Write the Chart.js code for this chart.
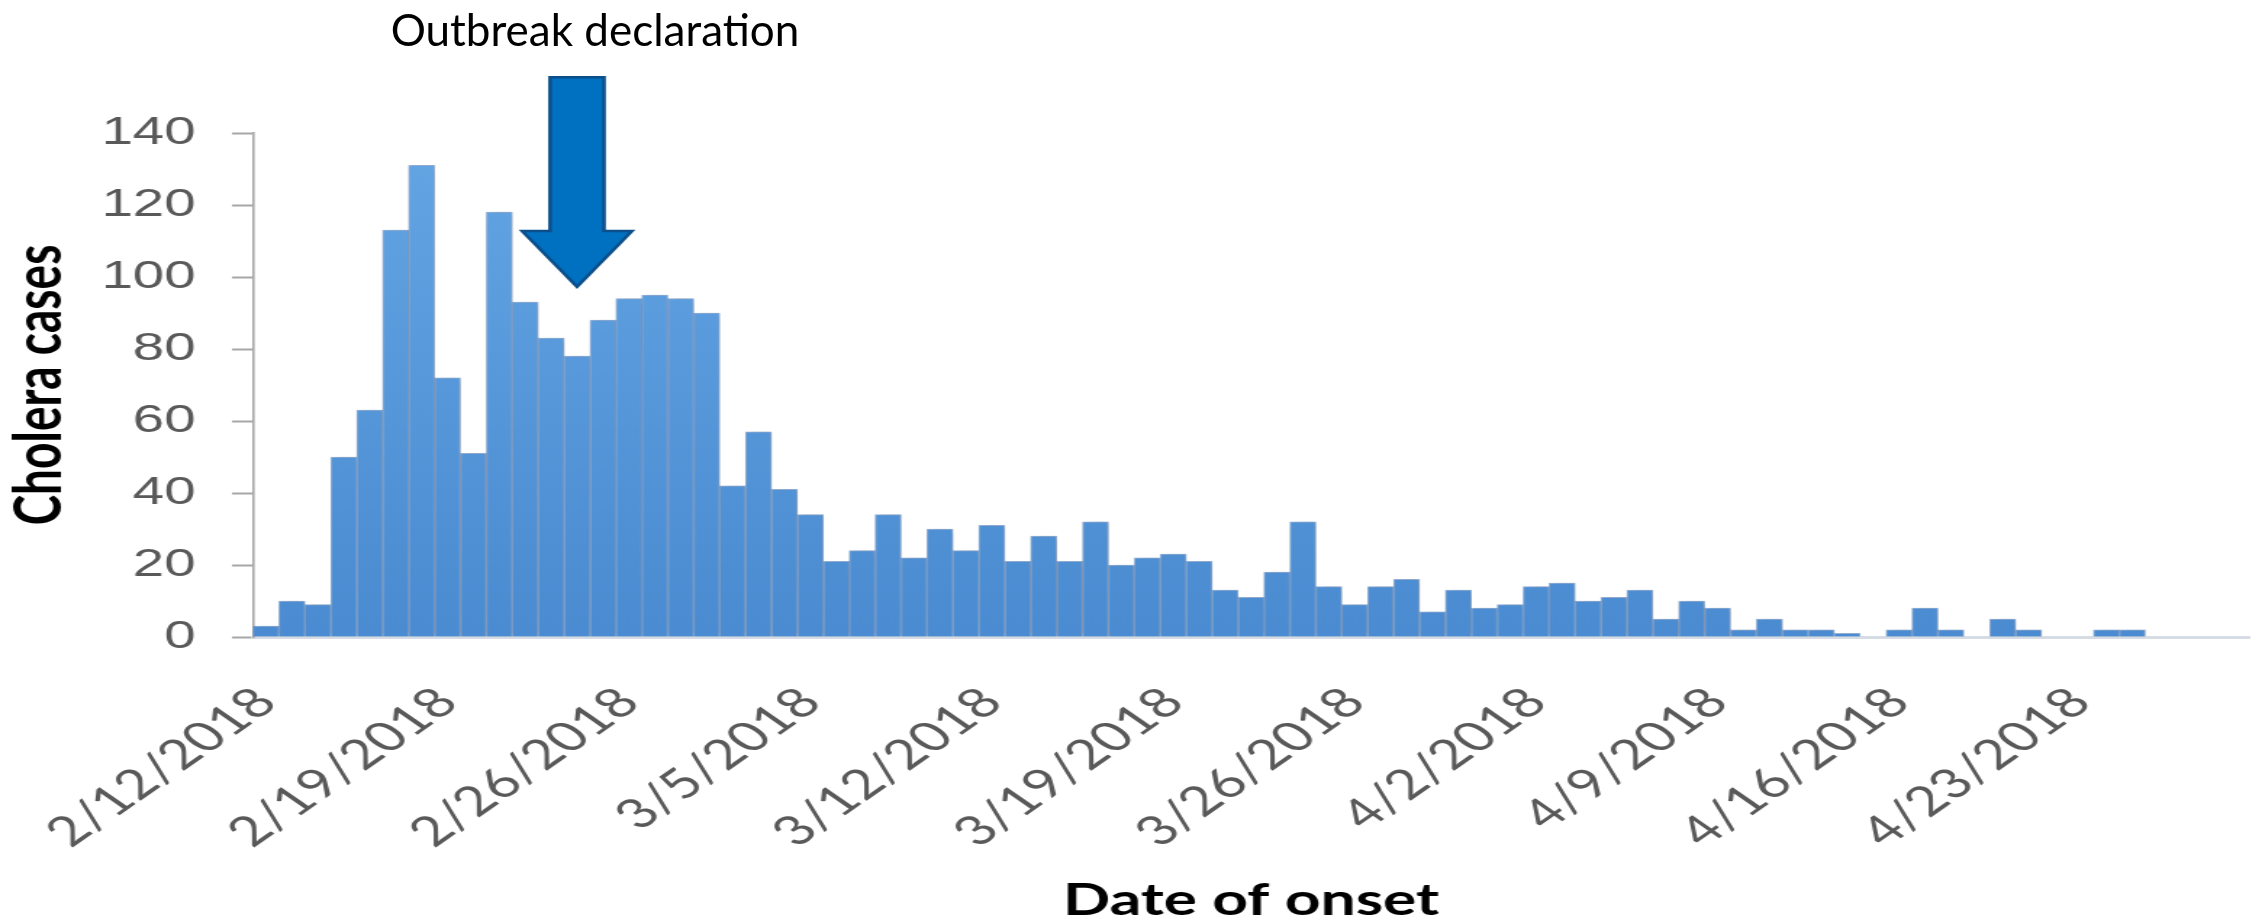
<!DOCTYPE html>
<html>
<head>
<meta charset="utf-8">
<script src="https://cdn.jsdelivr.net/npm/chart.js@4/dist/chart.umd.min.js"></script>
<style>
  html, body { margin: 0; padding: 0; background: #ffffff; overflow: hidden; }
  #wrap { position: relative; width: 2262px; height: 922px; }
  #c { display: block; width: 2262px; height: 922px; }
  #note { position: absolute; top: 7px; left: 595px; transform: translateX(-50%);
          font-family: 'Lato', sans-serif; font-size: 44px; line-height: 1; color: #000; white-space: nowrap; }
</style>
</head>
<body>
<div id="wrap">
  <canvas id="c" width="1560" height="922" style="width:2262px;height:922px;"></canvas>
  <div id="note">Outbreak declaration</div>
</div>
<script>
const categories = [
  '2/12/2018','2/13/2018','2/14/2018','2/15/2018','2/16/2018','2/17/2018','2/18/2018',
  '2/19/2018','2/20/2018','2/21/2018','2/22/2018','2/23/2018','2/24/2018','2/25/2018',
  '2/26/2018','2/27/2018','2/28/2018','3/1/2018','3/2/2018','3/3/2018','3/4/2018',
  '3/5/2018','3/6/2018','3/7/2018','3/8/2018','3/9/2018','3/10/2018','3/11/2018',
  '3/12/2018','3/13/2018','3/14/2018','3/15/2018','3/16/2018','3/17/2018','3/18/2018',
  '3/19/2018','3/20/2018','3/21/2018','3/22/2018','3/23/2018','3/24/2018','3/25/2018',
  '3/26/2018','3/27/2018','3/28/2018','3/29/2018','3/30/2018','3/31/2018','4/1/2018',
  '4/2/2018','4/3/2018','4/4/2018','4/5/2018','4/6/2018','4/7/2018','4/8/2018',
  '4/9/2018','4/10/2018','4/11/2018','4/12/2018','4/13/2018','4/14/2018','4/15/2018',
  '4/16/2018','4/17/2018','4/18/2018','4/19/2018','4/20/2018','4/21/2018','4/22/2018',
  '4/23/2018','4/24/2018','4/25/2018','4/26/2018','4/27/2018','4/28/2018','4/29/2018'
];
const cases = [
  3, 10, 9, 50, 63, 113, 131,
  72, 51, 118, 93, 83, 78, 88,
  94, 95, 94, 90, 42, 57, 41,
  34, 21, 24, 34, 22, 30, 24,
  31, 21, 28, 21, 32, 20, 22,
  23, 21, 13, 11, 18, 32, 14,
  9, 14, 16, 7, 13, 8, 9,
  14, 15, 10, 11, 13, 5, 10,
  8, 2, 5, 2, 2, 1, 0,
  2, 8, 2, 0, 5, 2, 0,
  0, 2, 2, 0, 0, 0, 0
];
const tickLabels = ['2/12/2018','2/19/2018','2/26/2018','3/5/2018','3/12/2018','3/19/2018',
                    '3/26/2018','4/2/2018','4/9/2018','4/16/2018','4/23/2018'];
const yTicks = [0, 20, 40, 60, 80, 100, 120, 140];
const declarationDate = '2/24/2018';

const SX = 2262 / 1560; // horizontal stretch of the canvas

const shadowPlugin = {
  id: 'barShadow',
  beforeDatasetsDraw(chart) {
    const ctx = chart.ctx;
    ctx.save();
    ctx.shadowColor = 'rgba(60,60,80,0.28)';
    ctx.shadowBlur = 7;
    ctx.shadowOffsetX = 2;
    ctx.shadowOffsetY = 0;
  },
  afterDatasetsDraw(chart) { chart.ctx.restore(); }
};

const arrowPlugin = {
  id: 'declArrow',
  afterDraw(chart) {
    const ctx = chart.ctx;
    const xs = chart.scales.x, ys = chart.scales.y;
    const cx = xs.getPixelForValue(categories.indexOf(declarationDate));
    const top = ys.getPixelForValue(155.5);
    const headBase = ys.getPixelForValue(112.8);
    const tip = ys.getPixelForValue(97.3);
    const sw = 27 / SX, hw = 55 / SX;
    ctx.save();
    ctx.beginPath();
    ctx.moveTo(cx - sw, top);
    ctx.lineTo(cx + sw, top);
    ctx.lineTo(cx + sw, headBase);
    ctx.lineTo(cx + hw, headBase);
    ctx.lineTo(cx, tip);
    ctx.lineTo(cx - hw, headBase);
    ctx.lineTo(cx - sw, headBase);
    ctx.closePath();
    ctx.fillStyle = '#0070C0';
    ctx.fill();
    ctx.lineWidth = 2.5;
    ctx.strokeStyle = '#0B4F8A';
    ctx.lineJoin = 'miter';
    ctx.stroke();
    ctx.restore();
  }
};

function barFill(context) {
  const chart = context.chart;
  const area = chart.chartArea;
  if (!area) return '#5A9BDB';
  const g = chart.ctx.createLinearGradient(0, area.top, 0, area.bottom);
  g.addColorStop(0, '#64A5E4');
  g.addColorStop(1, '#4A8BD1');
  return g;
}

new Chart(document.getElementById('c'), {
  type: 'bar',
  data: {
    labels: categories,
    datasets: [{
      data: cases,
      backgroundColor: barFill,
      borderColor: 'rgba(60,115,185,0.5)',
      borderWidth: 1,
      categoryPercentage: 1.0,
      barPercentage: 1.0
    }]
  },
  options: {
    responsive: false,
    devicePixelRatio: 1,
    animation: false,
    events: [],
    layout: { padding: { top: 133, right: 9, left: 0, bottom: 0 } },
    plugins: { legend: { display: false }, tooltip: { enabled: false } },
    scales: {
      x: {
        offset: true,
        grid: { display: true, drawOnChartArea: false, drawTicks: false, tickLength: 0 },
        border: { color: '#D6DCE4', width: 3 },
        ticks: {
          autoSkip: false, minRotation: 45, maxRotation: 45, padding: 41,
          color: '#595959', font: { family: 'Lato', size: 41 },
          callback(v, i) { return tickLabels.includes(categories[i]) ? categories[i] : ''; }
        },
        title: { display: true, text: 'Date of onset', color: '#000',
                 font: { family: 'Lato', size: 43, weight: 'bold' }, padding: { top: 0, bottom: -5 } },
        afterFit(s) { s.height = 285; s.paddingLeft = 0; s.paddingRight = 0; }
      },
      y: {
        min: 0, max: 140,
        afterBuildTicks(s) { s.ticks = yTicks.map(v => ({ value: v })); },
        grid: { display: true, drawOnChartArea: false, drawTicks: true, tickLength: 14.5, color: '#A6A6A6', tickColor: '#A6A6A6', tickWidth: 2 },
        border: { color: '#A6A6A6', width: 1.6 },
        ticks: { padding: 25, color: '#595959', font: { family: "'Liberation Sans', Arial, sans-serif", size: 39 } },
        title: { display: true, text: 'Cholera cases', color: '#000',
                 font: { family: 'Lato', size: 46, weight: 'bold' }, padding: { top: 0, bottom: 0 } },
        afterFit(s) { s.width = 174.5; }
      }
    }
  },
  plugins: [shadowPlugin, arrowPlugin]
});
</script>
</body>
</html>
